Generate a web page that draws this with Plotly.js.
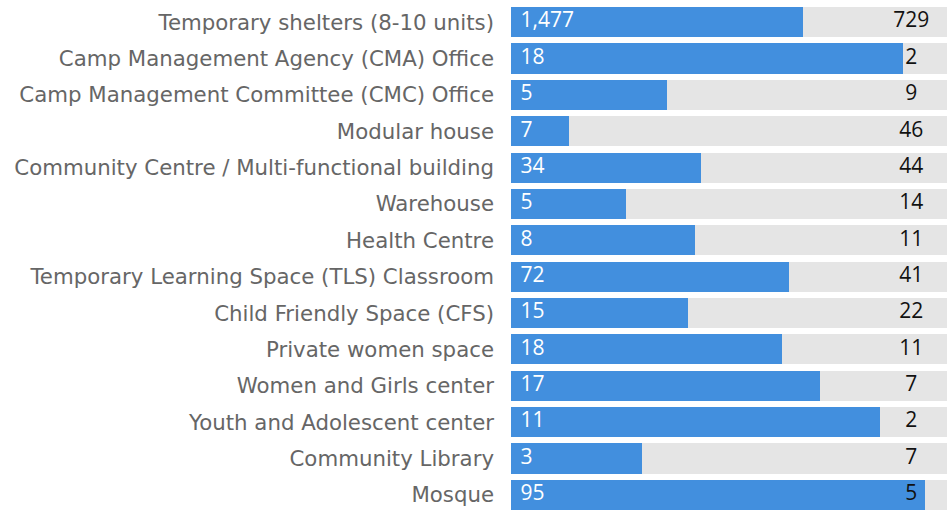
<!DOCTYPE html>
<html><head><meta charset="utf-8">
<script src="https://cdn.plot.ly/plotly-3.0.1.min.js"></script>
<style>html,body{margin:0;padding:0;background:#fff;overflow:hidden}#chart{width:947px;height:513px}</style>
</head><body><div id="chart"></div>
<script>
const categories = [
  "Temporary shelters (8-10 units)",
  "Camp Management Agency (CMA) Office",
  "Camp Management Committee (CMC) Office",
  "Modular house",
  "Community Centre / Multi-functional building",
  "Warehouse",
  "Health Centre",
  "Temporary Learning Space (TLS) Classroom",
  "Child Friendly Space (CFS)",
  "Private women space",
  "Women and Girls center",
  "Youth and Adolescent center",
  "Community Library",
  "Mosque"
];
const completed = [1477, 18, 5, 7, 34, 5, 8, 72, 15, 18, 17, 11, 3, 95];
const remaining = [729, 2, 9, 46, 44, 14, 11, 41, 22, 11, 7, 2, 7, 5];

const totals = completed.map((c, i) => c + remaining[i]);
const doneShare = completed.map((c, i) => c / totals[i]);
const restShare = remaining.map((r, i) => r / totals[i]);
const fmt = v => v.toLocaleString('en-US');

const traces = [
  {
    type: 'bar', orientation: 'h', y: categories, x: doneShare,
    marker: {color: '#428FDE'}, hoverinfo: 'skip', textposition: 'none'
  },
  {
    type: 'bar', orientation: 'h', y: categories, x: restShare,
    marker: {color: '#E5E5E5'}, hoverinfo: 'skip', textposition: 'none'
  },
  {
    type: 'scatter', mode: 'text', y: categories, x: categories.map(() => 0.022),
    text: completed.map(fmt), textposition: 'middle right',
    textfont: {color: '#ffffff', size: 21, family: 'Open Sans, sans-serif'},
    hoverinfo: 'skip', cliponaxis: false
  },
  {
    type: 'scatter', mode: 'text', y: categories, x: categories.map(() => 0.918),
    text: remaining.map(fmt), textposition: 'middle center',
    textfont: {color: '#111111', size: 21, family: 'Open Sans, sans-serif'},
    hoverinfo: 'skip', cliponaxis: false
  }
];

const layout = {
  width: 947, height: 513,
  margin: {l: 511, r: 0, t: 4, b: 0, pad: 0},
  barmode: 'stack', bargap: 0.17, showlegend: false,
  paper_bgcolor: '#ffffff', plot_bgcolor: '#ffffff',
  xaxis: {range: [0, 1], visible: false, fixedrange: true},
  yaxis: {range: [13.5, -0.5], autorange: false, automargin: false, showgrid: false, zeroline: false,
          showline: false, ticks: '', ticklabelstandoff: 16,
          tickfont: {family: 'DejaVu Sans, sans-serif', size: 21.3, color: '#666666'}}
};

Plotly.newPlot('chart', traces, layout, {displayModeBar: false, staticPlot: true});
</script></body></html>
